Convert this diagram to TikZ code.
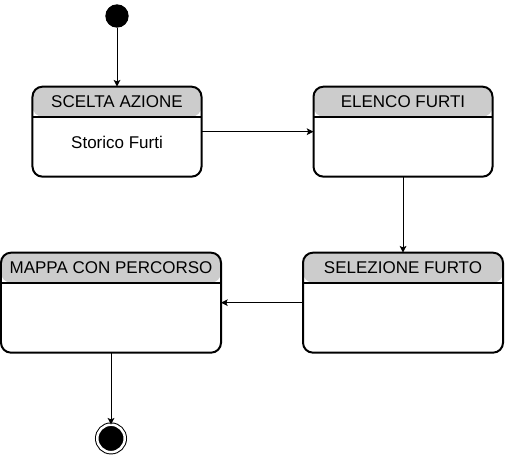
\documentclass[tikz,border=0pt]{standalone}
\usepackage{fontspec}
\setmainfont{Liberation Sans}
\usetikzlibrary{positioning, arrows.meta, calc}
\definecolor{headgray}{gray}{0.8}

\begin{document}
\begin{tikzpicture}[
    every node/.style={font=\fontsize{10.2pt}{12pt}\selectfont},
    statebox/.style={draw, line width=1.2pt, rounded corners=6pt, outer sep=0pt, inner sep=0pt,
        path picture={
            \fill[headgray] (path picture bounding box.north west) rectangle ([yshift=-18pt]path picture bounding box.north east);
            \draw[line width=1.2pt] ([yshift=-18pt]path picture bounding box.north west) -- ([yshift=-18pt]path picture bounding box.north east);
        }},
    title/.style={inner sep=0pt},
    initstate/.style={circle, fill=black, minimum size=14pt, inner sep=0pt, outer sep=0pt},
    finalstate/.style={circle, draw, fill=black, line width=0.6pt, double=white, double distance=1.5pt,
        minimum size=16.5pt, inner sep=0pt, outer sep=0pt},
    arrow/.style={-{Stealth[length=4pt, width=4pt, inset=0.8pt]}, line width=0.6pt}
]
\useasboundingbox (-70.2pt, 9.6pt) rectangle (234pt, -263.4pt);

% States
\node[initstate] (init) at (0,0) {};
\node[statebox, minimum width=101.4pt, minimum height=54pt, below=35.4pt of init] (scelta) {};
\node[statebox, minimum width=107.4pt, minimum height=54pt, right=67.2pt of scelta] (elenco) {};
\node[statebox, minimum width=120pt, minimum height=60pt, below=45.6pt of elenco] (selezione) {};
\node[statebox, minimum width=132pt, minimum height=60pt, left=49.2pt of selezione] (mappa) {};
\node[finalstate, below=43.2pt of mappa] (final) {};

% Titles
\node[title] (scelta-title) at ([yshift=-9pt]scelta.north) {SCELTA AZIONE};
\node[title] (elenco-title) at ([yshift=-9pt]elenco.north) {ELENCO FURTI};
\node[title] (selezione-title) at ([yshift=-9pt]selezione.north) {SELEZIONE FURTO};
\node[title] (mappa-title) at ([yshift=-9pt]mappa.north) {MAPPA CON PERCORSO};

% Activities
\node[title] (storico) at ([yshift=-33.6pt]scelta.north) {Storico Furti};

% Transitions
\draw[arrow] (init) -- (scelta);
\draw[arrow] (scelta) -- (elenco);
\draw[arrow] (elenco) -- (selezione);
\draw[arrow] (selezione) -- (mappa);
\draw[arrow] (mappa) -- (final);

\end{tikzpicture}
\end{document}
